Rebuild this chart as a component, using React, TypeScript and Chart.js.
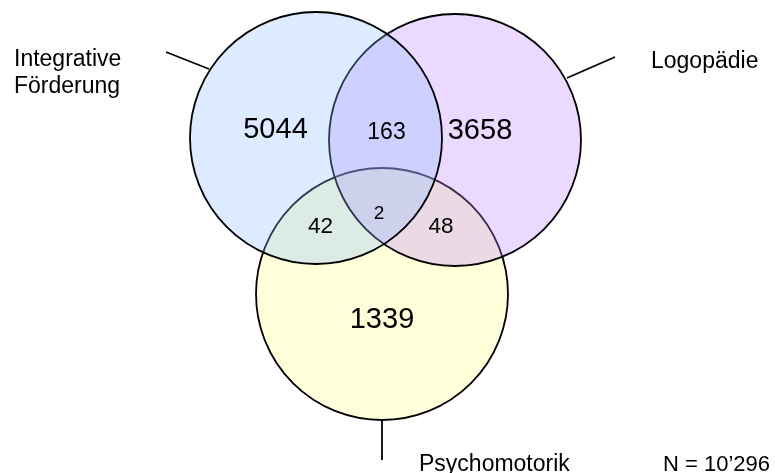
import React, { useEffect, useRef } from "react";
import Chart from "chart.js/auto";

// ---- data ----
const setNames: string[][] = [["Integrative", "Förderung"], ["Logopädie"], ["Psychomotorik"]];
const regionNames = ["IF only", "IF ∩ LO", "LO only", "IF ∩ PM", "IF ∩ LO ∩ PM", "LO ∩ PM", "PM only"];
const regionCounts = [5044, 163, 3658, 42, 2, 48, 1339];
const totalLabel = "N = 10’296";

// ---- layout (scale units = px) ----
const W = 775;
const H = 473;
const circleCenters = [
  { x: 316, y: 138 },
  { x: 455, y: 140 },
  { x: 382, y: 294 },
];
const circleRadius = 126;
const circleFills = ["rgba(140,190,255,0.30)", "rgba(190,130,255,0.30)", "rgba(255,255,170,0.45)"];
const regionPos = [
  { x: 275.5, y: 137.5, size: 29 },
  { x: 386.5, y: 139, size: 23 },
  { x: 480, y: 139, size: 29 },
  { x: 320.5, y: 233, size: 22.5 },
  { x: 379, y: 219, size: 19 },
  { x: 441, y: 233, size: 22.5 },
  { x: 382, y: 328, size: 29 },
];
const labelPos = [
  { x: 14, y: 65.5, lh: 27 },
  { x: 651, y: 67.5, lh: 27 },
  { x: 419, y: 470.5, lh: 27 },
];
const connectors = [
  [{ x: 166, y: 52 }, { x: 209, y: 69 }],
  [{ x: 567, y: 78 }, { x: 615, y: 57 }],
  [{ x: 382, y: 421 }, { x: 382, y: 460 }],
];
const totalPos = { x: 663, y: 470.5 };

const FONT = "'Liberation Sans', Arial, sans-serif";

const vennText = {
  id: "vennText",
  afterDatasetsDraw(chart: any) {
    const ctx = chart.ctx as CanvasRenderingContext2D;
    const xs = chart.scales.x;
    const ys = chart.scales.y;
    const px = (v: number) => xs.getPixelForValue(v);
    const py = (v: number) => ys.getPixelForValue(v);
    ctx.save();
    ctx.strokeStyle = "#000";
    ctx.lineWidth = 1.8;
    connectors.forEach((seg) => {
      ctx.beginPath();
      ctx.moveTo(px(seg[0].x), py(seg[0].y));
      ctx.lineTo(px(seg[1].x), py(seg[1].y));
      ctx.stroke();
    });
    ctx.fillStyle = "#000";
    ctx.textBaseline = "alphabetic";
    ctx.font = `23px ${FONT}`;
    setNames.forEach((lines, i) => {
      const p = labelPos[i];
      ctx.textAlign = "left";
      lines.forEach((t, j) => ctx.fillText(t, px(p.x), py(p.y + j * p.lh)));
    });
    ctx.textAlign = "center";
    regionCounts.forEach((v, i) => {
      const p = regionPos[i];
      ctx.font = `${p.size}px ${FONT}`;
      ctx.fillText(String(v), px(p.x), py(p.y));
    });
    ctx.textAlign = "left";
    ctx.font = `22px ${FONT}`;
    ctx.fillText(totalLabel, px(totalPos.x), py(totalPos.y));
    ctx.restore();
  },
};

export default function App() {
  const ref = useRef<HTMLCanvasElement>(null);
  useEffect(() => {
    if (!ref.current) return;
    const chart = new Chart(ref.current, {
      type: "bubble",
      data: {
        datasets: circleCenters.map((c, i) => ({
          label: setNames[i].join(" "),
          data: [{ x: c.x, y: c.y, r: circleRadius }],
          backgroundColor: circleFills[i],
          borderColor: "#000",
          borderWidth: 1.8,
          hoverRadius: 0,
          hoverBorderWidth: 1.8,
          clip: false,
        })),
      },
      options: {
        responsive: false,
        animation: false,
        events: [],
        layout: { padding: 0, autoPadding: false },
        plugins: { legend: { display: false }, tooltip: { enabled: false } },
        scales: {
          x: { type: "linear", min: 0, max: W, display: false },
          y: { type: "linear", min: 0, max: H, reverse: true, display: false },
        },
      },
      plugins: [vennText],
    });
    return () => chart.destroy();
  }, []);
  return (
    <div style={{ position: "absolute", left: 0, top: 0, width: W, height: H, background: "#fff" }}>
      <canvas ref={ref} width={W} height={H} style={{ display: "block" }} aria-label={regionNames.join(", ")} />
    </div>
  );
}
